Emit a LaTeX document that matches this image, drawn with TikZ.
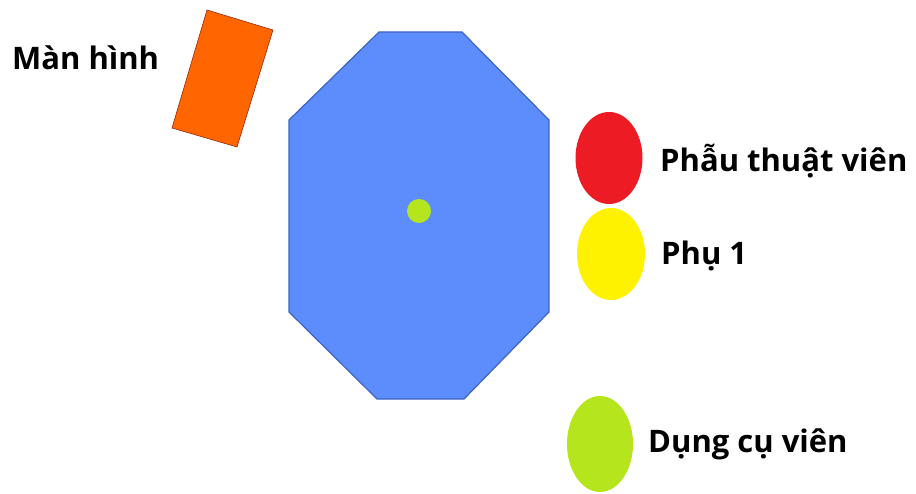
\documentclass[tikz,border=0pt]{standalone}
\usepackage{fontspec}
\setmainfont{Open Sans}
\usetikzlibrary{shapes.geometric}
\definecolor{tableblue}{RGB}{93,140,252}
\definecolor{tableedge}{RGB}{62,100,190}
\definecolor{screenorange}{RGB}{255,102,0}
\definecolor{screenedge}{RGB}{150,40,20}
\definecolor{surgred}{RGB}{237,28,36}
\definecolor{assistyellow}{RGB}{255,242,0}
\definecolor{instgreen}{RGB}{181,230,29}
\tikzset{
  person/.style={ellipse, draw=none, inner sep=0pt},
  lbl/.style={anchor=base west, inner sep=0pt, font=\fontsize{31}{36}\selectfont\bfseries, text=black}
}
\begin{document}
\begin{tikzpicture}[x=1pt,y=-1pt]
\useasboundingbox (0,0) rectangle (916,494);
% table
\draw[fill=tableblue, draw=tableedge, line width=1.2pt]
  (379,32) -- (462,32) -- (549,120) -- (549,312) -- (464,399) -- (377,399) -- (289,312) -- (289,120) -- cycle;
% screen
\draw[fill=screenorange, draw=screenedge, line width=0.6pt]
  (207,10) -- (273,30) -- (237,147) -- (172,128) -- cycle;
% patient center dot
\node[person, fill=instgreen, minimum width=24pt, minimum height=24pt] (dot) at (419,211) {};
% people
\node[person, fill=surgred, minimum width=67pt, minimum height=92pt] (surg) at (609,158) {};
\node[person, fill=assistyellow, minimum width=68pt, minimum height=92pt] (assist) at (611,254) {};
\node[person, fill=instgreen, minimum width=66pt, minimum height=96pt] (inst) at (600,444) {};
% labels
\node[lbl] (lscreen) at (12,70) {Màn hình};
\node[lbl] (lsurg) at (660,172) {Phẫu thuật viên};
\node[lbl] (lassist) at (661,265) {Phụ 1};
\node[lbl] (linst) at (648,452) {Dụng cụ viên};
\end{tikzpicture}
\end{document}
